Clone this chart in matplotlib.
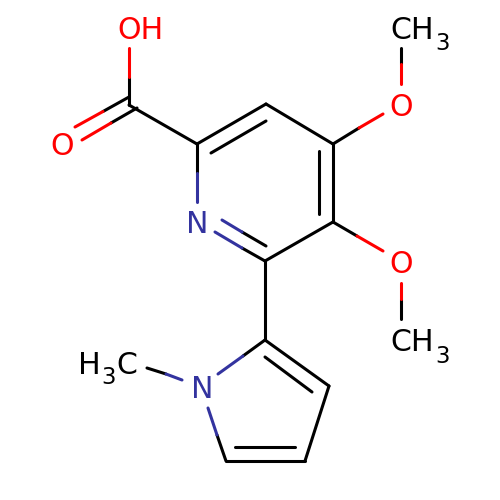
import matplotlib
matplotlib.use("Agg")
import matplotlib.pyplot as plt

RED = "#ff0000"
BLUE = "#33339f"
BLACK = "#000000"

# bond pieces as x0, y0, x1, y1 in picture pixels
black_bonds = [
    (129, 77, 129, 105), (129, 97, 103, 111.5), (137, 108, 111, 123),
    (129, 105, 197, 144), (197, 144, 266, 104), (211, 153, 266, 121),
    (266, 104, 333, 144), (333, 144, 333, 222), (319, 151, 319, 214),
    (333, 222, 265, 261), (197, 144, 197, 173), (242, 232, 266, 246),
    (242, 248, 265, 261), (333, 144, 359, 128), (401, 64, 401, 48),
    (333, 222, 357, 236), (401, 299, 401, 319), (265, 261, 265, 340),
    (265, 340, 329, 386), (265, 357, 312, 392), (329, 386, 305, 461),
    (305, 461, 226, 461), (235, 447, 295, 447), (226, 461, 217, 435),
    (243, 356, 265, 340), (166, 374, 147, 368),
]
red_bonds = [
    (129, 48, 129, 77), (75, 127, 103, 111.5), (82, 140, 111, 123),
    (359, 128, 383, 114), (401, 84, 401, 64), (357, 236, 383, 251),
    (401, 283, 401, 299),
]
blue_bonds = [
    (197, 173, 197, 202), (222, 220, 242, 232), (215, 232, 242, 248),
    (217, 435, 208, 408), (218, 374, 243, 356), (182, 380, 166, 374),
]

label_text = ["OH", "O", "O", "O", "N", "N", "CH", "CH", "H", "C"]
label_x = [140.5, 62, 401, 401, 197, 202, 412.5, 412.5, 89.5, 127]
label_y = [39, 155, 116, 273, 233, 398, 39, 351, 374, 374]
label_color = [RED, RED, RED, RED, BLUE, BLUE, BLACK, BLACK, BLACK, BLACK]

sub_x = [443, 443, 109]
sub_y = [50, 363, 384]

fig = plt.figure(figsize=(5, 5), dpi=100)
ax = fig.add_axes([0, 0, 1, 1])
ax.set_xlim(0, 500)
ax.set_ylim(500, 0)
ax.axis("off")

for bonds, col in [(black_bonds, BLACK), (red_bonds, RED), (blue_bonds, BLUE)]:
    for x0, y0, x1, y1 in bonds:
        ax.plot([x0, x1], [y0, y1], color=col, lw=2.2, solid_capstyle="round")

for t, x, y, c in zip(label_text, label_x, label_y, label_color):
    ax.text(x, y, t, color=c, fontsize=21.6, ha="center", va="baseline")
for x, y in zip(sub_x, sub_y):
    ax.text(x, y, "3", color=BLACK, fontsize=16.5, ha="center", va="baseline")

fig.savefig("out.png", dpi=100, facecolor="white")
